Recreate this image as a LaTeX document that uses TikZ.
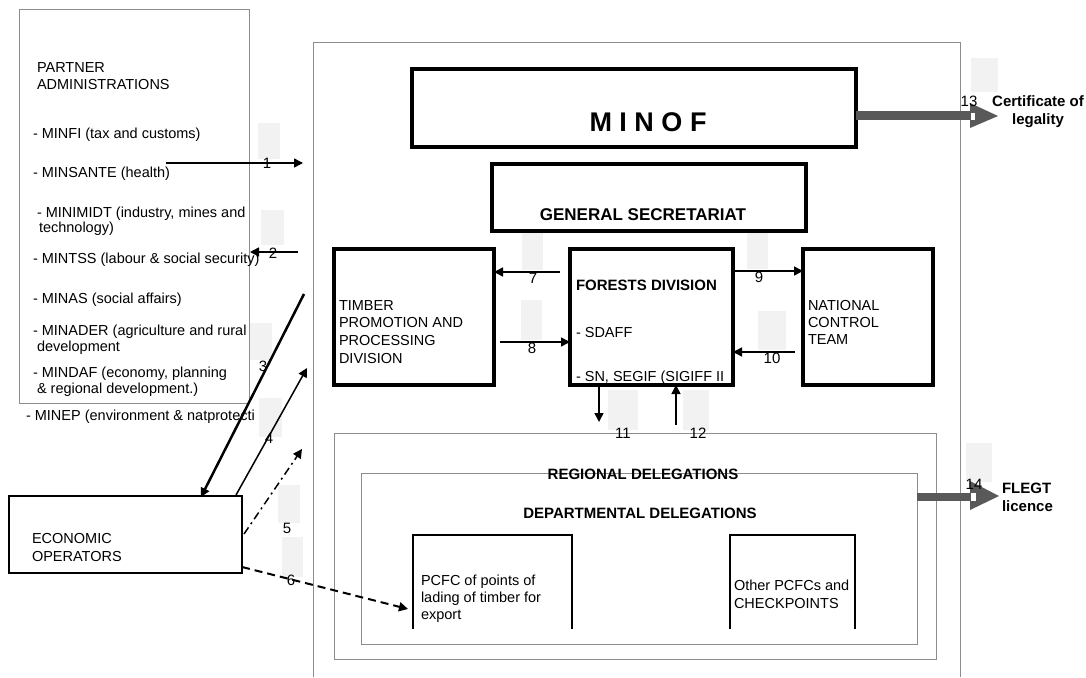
\documentclass[tikz,border=0pt]{standalone}
\usepackage{fontspec}
\setmainfont{Liberation Sans}
\usetikzlibrary{arrows.meta}
\definecolor{lblgray}{HTML}{F2F2F2}
\definecolor{bigarrow}{HTML}{595959}
\definecolor{thingray}{HTML}{8C8C8C}
\begin{document}
\begin{tikzpicture}[x=1pt,y=-1pt,
  every node/.style={inner sep=0pt, outer sep=0pt},
  txt/.style={anchor=base west, font=\fontsize{14.5}{17}\selectfont},
  btxt/.style={anchor=base, font=\bfseries\fontsize{15}{17}\selectfont},
  num/.style={anchor=base, font=\fontsize{15}{17}\selectfont},
  thickbox/.style={draw, line width=4pt, anchor=north west},
  thinbox/.style={draw=thingray, line width=1pt, anchor=north west},
  blkbox/.style={draw, line width=2pt, anchor=north west},
  openbox/.style={anchor=north west},
  lblbg/.style={fill=lblgray},
  conn/.style={line width=1.5pt, -{Triangle[length=9pt,width=9pt]}},
  bigarr/.style={fill=bigarrow},
]
\useasboundingbox (0,0) rectangle (1086,677);
\fill[white] (0,0) rectangle (1086,677);

% outer MINOF frame (open at the bottom of the page)
\draw[draw=thingray, line width=1pt] (313,677) -- (313,43) -- (960,43) -- (960,677);

% label backgrounds
\fill[lblbg] (258,123) rectangle (280,159);
\fill[lblbg] (261,210) rectangle (284,245);
\fill[lblbg] (249,323) rectangle (272,360);
\fill[lblbg] (259,398) rectangle (282,437);
\fill[lblbg] (278,485) rectangle (300,523);
\fill[lblbg] (282,537) rectangle (303,577);
\fill[lblbg] (522,233) rectangle (543,270);
\fill[lblbg] (521,300) rectangle (542,340);
\fill[lblbg] (747,233) rectangle (768,269);
\fill[lblbg] (758,311) rectangle (786,350);
\fill[lblbg] (608,390) rectangle (638,430);
\fill[lblbg] (683,390) rectangle (709,430);
\fill[lblbg] (971,58) rectangle (998,92);
\fill[lblbg] (966,443) rectangle (992,482);

% boxes
\node[thinbox, minimum width=230pt, minimum height=393pt] (partner) at (19,10) {};
\node[thickbox, minimum width=444pt, minimum height=78pt] (minof) at (412,69) {};
\node[thickbox, minimum width=314pt, minimum height=67pt] (gs) at (492,164) {};
\node[thickbox, minimum width=160pt, minimum height=136pt] (timber) at (334,249) {};
\node[thickbox, minimum width=163pt, minimum height=136pt] (forests) at (570,249) {};
\node[thickbox, minimum width=130pt, minimum height=136pt] (nct) at (803,249) {};
\node[thinbox, minimum width=602pt, minimum height=226pt] (regional) at (334,433) {};
\node[thinbox, minimum width=556pt, minimum height=171pt] (dep) at (361,473) {};
\node[openbox, minimum width=159pt, minimum height=94pt] (pcfc) at (413,535) {};
\node[openbox, minimum width=125pt, minimum height=94pt] (other) at (730,535) {};
\draw[line width=2pt] (pcfc.south west) -- (pcfc.north west) -- (pcfc.north east) -- (pcfc.south east);
\draw[line width=2pt] (other.south west) -- (other.north west) -- (other.north east) -- (other.south east);
\node[blkbox, minimum width=233pt, minimum height=77pt] (eo) at (9,496) {};

% partner administrations text
\node[txt] (pa1) at (37,72) {PARTNER};
\node[txt] (pa2) at (37,89) {ADMINISTRATIONS};
\node[txt] (p1) at (33,138) {- MINFI (tax and customs)};
\node[txt] (p2) at (33,177) {- MINSANTE (health)};
\node[txt] (p3) at (37,217) {- MINIMIDT (industry, mines and};
\node[txt] (p3b) at (39,232) {technology)};
\node[txt] (p4) at (33,263) {- MINTSS (labour \& social security)};
\node[txt] (p5) at (33,303) {- MINAS (social affairs)};
\node[txt] (p6) at (33,335) {- MINADER (agriculture and rural};
\node[txt] (p6b) at (37,351) {development};
\node[txt] (p7) at (33,377) {- MINDAF (economy, planning};
\node[txt] (p7b) at (37,393) {\& regional development.)};
\begin{scope}
\clip (0,405) rectangle (259,430);
\node[txt] (p8) at (26,420) {- MINEP (environment \& natprotecti};
\end{scope}

% MINOF texts
\node[anchor=base, font=\bfseries\fontsize{27}{30}\selectfont] (minoft) at (648,131) {M I N O F};
\node[anchor=base, font=\bfseries\fontsize{17}{20}\selectfont] (gst) at (643,220) {GENERAL SECRETARIAT};
\node[txt] (tm1) at (339,310) {TIMBER};
\node[txt] (tm2) at (339,327) {PROMOTION AND};
\node[txt] (tm3) at (339,345) {PROCESSING};
\node[txt] (tm4) at (339,363) {DIVISION};
\node[txt, font=\bfseries\fontsize{15}{17}\selectfont] (fd1) at (576,290) {FORESTS DIVISION};
\node[txt] (fd2) at (576,337) {- SDAFF};
\node[txt] (fd3) at (576,381) {- SN, SEGIF (SIGIFF II};
\node[txt] (nc1) at (808,310) {NATIONAL};
\node[txt] (nc2) at (808,327) {CONTROL};
\node[txt] (nc3) at (808,344) {TEAM};
\node[btxt] (regt) at (643,479) {REGIONAL DELEGATIONS};
\node[btxt] (dept) at (640,518) {DEPARTMENTAL DELEGATIONS};
\node[txt] (pc1) at (421,585) {PCFC of points of};
\node[txt] (pc2) at (421,602) {lading of timber for};
\node[txt] (pc3) at (421,619) {export};
\node[txt] (ot1) at (734,590) {Other PCFCs and};
\node[txt] (ot2) at (734,608) {CHECKPOINTS};
\node[txt] (eo1) at (32,543) {ECONOMIC};
\node[txt] (eo2) at (32,561) {OPERATORS};

% outputs
\node[btxt] (cert1) at (1038,106) {Certificate of};
\node[btxt] (cert2) at (1038,124) {legality};
\node[txt, font=\bfseries\fontsize{15}{17}\selectfont] (fl1) at (1002,493) {FLEGT};
\node[txt, font=\bfseries\fontsize{15}{17}\selectfont] (fl2) at (1002,511) {licence};

% connector end points
\coordinate (c1s) at (166,163); \coordinate (c1e) at (303,163);
\coordinate (c2s) at (298,252); \coordinate (c2e) at (250,252);
\coordinate (c3s) at (304,294); \coordinate (c3e) at (201,497);
\coordinate (c4s) at (236,495); \coordinate (c4e) at (307,368);
\coordinate (c5s) at (244,534); \coordinate (c5e) at (302,449);
\coordinate (c6s) at (242,567); \coordinate (c6e) at (408,609);

\draw[conn] (c1s) -- (c1e);
\draw[conn] (c2s) -- (c2e);
\draw[conn, line width=2.5pt] (c3s) -- (c3e);
\draw[conn] (c4s) -- (c4e);
\draw[conn, dash pattern=on 8pt off 4pt on 2pt off 4pt] (c5s) -- (c5e);
\draw[conn, line width=2pt, dash pattern=on 8pt off 5pt] (c6s) -- (c6e);

\draw[conn] (forests.west |- 0,272) ++(-10,0) -- (timber.east |- 0,272);
\draw[conn] (timber.east |- 0,342) ++(6,0) -- (forests.west |- 0,342);
\draw[conn] (forests.east |- 0,271) ++(2,0) -- (nct.west |- 0,271);
\draw[conn] (nct.west |- 0,352) ++(-8,0) -- (forests.east |- 0,352);
\draw[conn] (forests.south -| 599,0) -- ++(0,37);
\draw[conn] (676,425) -- (forests.south -| 676,0);

% big output arrows
\fill[bigarr] (minof.east |- 0,111) rectangle (971,120);
\fill[bigarr] (970,103) -- (998,116) -- (970,128) -- cycle;
\fill[white] (971,113) rectangle (975,120);
\fill[bigarr] (dep.east |- 0,493) rectangle (971,501);
\fill[bigarr] (970,481) -- (999,496) -- (970,510) -- cycle;
\fill[white] (971,493) rectangle (976,501);

% number labels
\node[num] (n1) at (267,168) {1};
\node[num] (n2) at (273,258) {2};
\node[num] (n3) at (263,371) {3};
\node[num] (n4) at (269,443) {4};
\node[num] (n5) at (287,533) {5};
\node[num] (n6) at (291,585) {6};
\node[num] (n7) at (533,283) {7};
\node[num] (n8) at (532,353) {8};
\node[num] (n9) at (759,282) {9};
\node[num] (n10) at (772,363) {10};
\node[num] (n11) at (623,438) {11};
\node[num] (n12) at (698,438) {12};
\node[num] (n13) at (969,106) {13};
\node[num] (n14) at (974,489) {14};
\end{tikzpicture}
\end{document}
